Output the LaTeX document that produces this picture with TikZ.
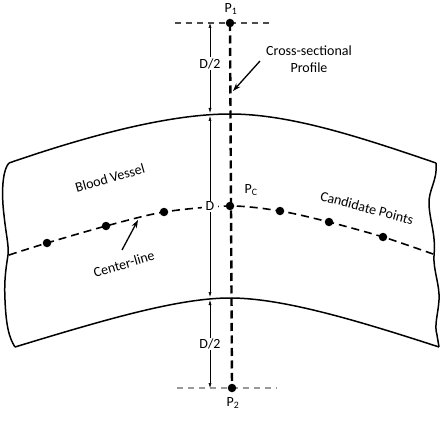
\documentclass[tikz,border=0pt]{standalone}
\usepackage{fontspec}
\setmainfont{Carlito}
\usetikzlibrary{arrows.meta}

\begin{document}
\begin{tikzpicture}[
        x=1pt, y=-1pt,
        font=\fontsize{14}{17}\selectfont,
        wall/.style={line width=1.5pt},
        profile/.style={line width=2.4pt, dash pattern=on 8pt off 4.5pt},
        centerline/.style={line width=1.6pt, dash pattern=on 8pt off 5pt},
        guide/.style={line width=1.1pt, dash pattern=on 6pt off 5pt},
        dim/.style={<->, >={Latex[length=5pt,width=3pt]}, line width=0.5pt},
        pointer/.style={->, >={Stealth[length=8pt,width=5.5pt]}, line width=1.3pt},
        dot/.style={circle, fill, inner sep=0pt, minimum size=8.5pt},
        lbl/.style={fill=white, inner sep=1pt}
    ]
        \useasboundingbox (0,0) rectangle (444,422);

        % Vessel corners
        \coordinate (tl) at (9,163);
        \coordinate (tr) at (436,163);
        \coordinate (bl) at (15,347);
        \coordinate (br) at (439,347);
        \coordinate (top) at (230,114);
        \coordinate (bottom) at (230,298);

        % Vessel walls
        \draw[wall] (tl) .. controls (90,135) and (170,114) .. (top)
                         .. controls (290,114) and (360,137) .. (tr);
        \draw[wall] (bl) .. controls (110,318) and (180,298) .. (bottom)
                         .. controls (280,298) and (350,318) .. (br);

        % Cut ends
        \draw[wall] (tl) .. controls (1,172) and (2,200) .. (4,215)
                         .. controls (6,235) and (9,245) .. (8,255)
                         .. controls (6,268) and (4,280) .. (5,300)
                         .. controls (6,325) and (9,338) .. (bl);
        \draw[wall] (tr) .. controls (438,180) and (428,190) .. (429,205)
                         .. controls (430,222) and (436,235) .. (434,255)
                         .. controls (433,270) and (440,285) .. (439,300)
                         .. controls (438,315) and (434,325) .. (437,335)
                         -- (br);

        % Center-line
        \coordinate (cl0) at (9,255);
        \coordinate (cl1) at (47,243);
        \coordinate (cl2) at (106,226);
        \coordinate (cl3) at (164,212);
        \coordinate (pc) at (230,206);
        \coordinate (cr1) at (280,211);
        \coordinate (cr2) at (329,222);
        \coordinate (cr3) at (383,237);
        \coordinate (cr4) at (433,254);
        \draw[centerline] plot[smooth] coordinates {(cl0) (cl1) (cl2) (cl3) (pc) (cr1) (cr2) (cr3) (cr4)};

        % Guides at P1 and P2
        \coordinate (p1) at (230,23);
        \coordinate (p2) at (232,388);
        \coordinate (g1a) at (175,23);
        \coordinate (g1b) at (272,23);
        \coordinate (g2a) at (177,388);
        \coordinate (g2b) at (277,388);
        \draw[guide, black!70] (g1a) -- (g1b);
        \draw[guide, black!40] (g2a) -- (g2b);

        % Cross-sectional profile
        \draw[profile] (p1) -- (p2);

        % Points
        \node[dot] (dp1) at (p1) {};
        \node[dot] (dp2) at (p2) {};
        \node[dot] (dpc) at (pc) {};
        \node[dot] (dl1) at (cl1) {};
        \node[dot] (dl2) at (cl2) {};
        \node[dot] (dl3) at (cl3) {};
        \node[dot] (dr1) at (cr1) {};
        \node[dot] (dr2) at (cr2) {};
        \node[dot] (dr3) at (cr3) {};

        % Dimensions
        \coordinate (m0) at (210,23);
        \coordinate (m1) at (210,113);
        \coordinate (m2) at (210,116);
        \coordinate (m3) at (210,297);
        \coordinate (m4) at (210,300);
        \coordinate (m5) at (210,388);
        \draw[dim] (m0) -- node[lbl, pos=0.45] {D/2} (m1);
        \draw[dim] (m2) -- node[lbl, inner xsep=4pt] {D} (m3);
        \draw[dim] (m4) -- node[lbl] {D/2} (m5);

        % Labels
        \node (p1lbl) at (231,9) {P\textsubscript{1}};
        \node (p2lbl) at (233,403) {P\textsubscript{2}};
        \node (pclbl) at (251,190) {P\textsubscript{C}};
        \node[rotate=16, inner sep=1pt] (vessel) at (110,178) {Blood Vessel};
        \node[rotate=16, inner sep=1pt] (cltext) at (124,264) {Center-line};
        \node[rotate=-15, inner sep=1pt] (cand) at (367,208) {Candidate Points};
        \node[align=center] (prof) at (309,59) {Cross-sectional\\Profile};

        % Pointers
        \coordinate (proftail) at (260,61);
        \coordinate (profhead) at (233,91);
        \coordinate (cltail) at (122,250);
        \coordinate (clhead) at (138,220);
        \draw[pointer] (proftail) -- (profhead);
        \draw[pointer] (cltail) -- (clhead);
    \end{tikzpicture}
\end{document}
